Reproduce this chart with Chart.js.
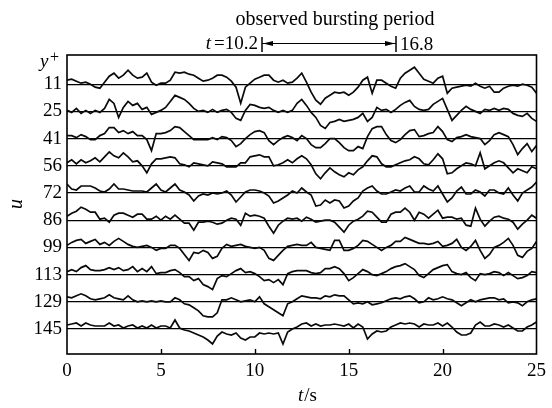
<!DOCTYPE html>
<html><head><meta charset="utf-8">
<script src="https://cdn.jsdelivr.net/npm/chart.js@4.4.1/dist/chart.umd.min.js"></script>
<style>html,body{margin:0;padding:0;background:#fff}#wrap{width:552px;height:408px;position:relative}</style>
</head><body><div id="wrap"><canvas id="c"></canvas></div>
<script>
// time axis (s), sampled every 0.25 s
const times = [0,0.25,0.5,0.75,1,1.25,1.5,1.75,2,2.25,2.5,2.75,3,3.25,3.5,3.75,4,4.25,4.5,4.75,5,5.25,5.5,5.75,6,6.25,6.5,6.75,7,7.25,7.5,7.75,8,8.25,8.5,8.75,9,9.25,9.5,9.75,10,10.25,10.5,10.75,11,11.25,11.5,11.75,12,12.25,12.5,12.75,13,13.25,13.5,13.75,14,14.25,14.5,14.75,15,15.25,15.5,15.75,16,16.25,16.5,16.75,17,17.25,17.5,17.75,18,18.25,18.5,18.75,19,19.25,19.5,19.75,20,20.25,20.5,20.75,21,21.25,21.5,21.75,22,22.25,22.5,22.75,23,23.25,23.5,23.75,24,24.25,24.5,24.75,25];
const xTicks = [0,5,10,15,20,25];
const yPlusLabels = ['11','25','41','56','72','86','99','113','129','145'];

// velocity fluctuation traces (arbitrary units) for each y+
const u11  = [4,5,3,1,2,0,-3,-4,2,8,11,6,9,14,9,6,7,11,2,-1,1,1,4,12,11,12,10,9,6,3,4,6,9, 9,7,3,-3,-19,-3,1,5,7,9,9,4,2,4,1,2,6,11,2,-8,-16,-20,-14,-11,-8,-9,-8,-11,-8,-3,4,7,-9,4, 4,1,-2,-4,6,11,14,17,11,5,3,1,6,8,-9,-4,-3,-2,-1,-2,1,-2,-4,-2,-8,-8,-4,-2,-1,-2,0,-1,-3,-9];
const u25  = [1,-1,3,-2,1,-2,1,-1,3,12,8,-6,4,10,6,8,2,4,-3,-1,1,4,10,16,14,12,8,3,0,1,-1,2,-1, 1,2,-1,-7,-9,1,7,6,4,3,4,1,-1,1,-1,1,8,12,6,-1,-6,-14,-17,-11,-10,-8,-10,-9,-8,-6,-2,-10,-6,4, 1,2,-1,2,6,9,11,5,2,1,2,7,10,13,2,-9,-4,1,5,2,0,-2,2,1,3,1,3,2,-2,-4,-5,-2,-7,-10];
const u41  = [3,3,1,4,2,-1,-1,3,5,11,11,6,8,5,7,3,3,-1,-12,5,5,6,8,12,11,7,3,-1,-1,-1,-1,1,-1, 2,1,-2,-8,-5,0,4,7,8,6,-2,-6,-2,1,3,1,-2,3,0,-6,-9,-9,-5,0,0,-4,-9,-12,-12,-8,-10,2,10,12, 12,4,-2,-4,-1,4,8,9,2,3,5,6,12,7,-1,-3,1,2,4,2,1,0,-6,-2,4,6,4,2,-6,-16,-10,-5,-13,-7];
const u56  = [3,6,2,6,3,5,8,4,9,14,10,8,13,9,4,5,0,-7,2,7,7,8,9,8,2,1,-1,3,2,1,0,4,3, 2,-1,-1,-1,3,3,9,10,11,9,9,0,1,3,6,3,7,10,7,1,-8,-13,-7,-2,-6,-9,-11,-7,-9,-4,-1,5,10,9, 2,-1,-1,1,3,5,6,9,7,2,1,6,12,7,-8,-7,-3,0,3,2,0,13,-3,0,3,5,3,-2,-7,-3,-5,-7,-1,-3];
const u72  = [9,4,3,7,7,7,5,2,1,4,9,4,4,3,2,2,2,1,5,9,3,1,5,9,3,1,-2,-8,-3,-1,-2,0,-1, 0,2,-2,-9,-4,1,3,3,2,0,-3,-10,-8,-5,-2,2,0,5,1,-2,-13,-12,-7,-10,-7,-8,-15,-13,-8,-5,2,5,7,2, -1,-1,1,3,2,5,7,1,1,7,4,2,7,-1,-9,-5,2,6,-1,-1,3,1,-3,3,3,0,-1,5,-2,-8,0,3,6,11];
const u86  = [4,7,9,13,11,8,8,1,2,-2,5,7,7,5,3,6,6,1,1,4,0,4,1,5,1,-3,-3,-10,-2,-2,-1,-2,-4, -3,0,2,1,-5,7,4,5,4,2,-6,-13,-5,-1,2,1,2,-1,3,1,-2,-1,0,0,-2,-7,-12,-5,-1,1,4,9,8,3, -2,-2,6,8,8,12,8,0,8,6,2,6,10,2,3,3,1,2,-5,-6,12,1,-6,-1,3,4,2,1,-2,-9,-4,0,5,2];
const u99  = [2,5,7,8,4,6,8,3,5,2,6,9,6,3,1,0,1,2,0,-3,-1,-1,2,2,-1,-7,-13,-5,-6,-3,-5,-11,-9, -1,3,1,2,3,1,0,-1,0,-3,-11,-13,-8,-3,1,2,3,2,2,5,0,-1,-2,-3,7,7,-3,-3,-1,2,7,6,3,0, -3,0,2,6,6,10,8,6,4,4,3,4,6,1,2,4,8,0,-3,1,7,-3,-11,-7,0,2,5,9,2,-8,-10,-4,-1,6];
const u113 = [3,5,3,7,9,5,4,4,5,7,5,7,4,5,8,3,6,3,8,1,2,2,4,5,2,-2,-2,-6,-4,-10,-12,-15,-4, -1,-2,1,4,6,2,3,1,-2,-6,-5,-8,-5,-10,1,3,4,4,4,2,1,2,6,6,8,6,1,-6,-3,1,5,3,0,-1, 1,3,6,8,9,11,8,5,-1,-3,1,5,7,9,10,3,1,0,2,-3,-6,1,0,1,3,2,-1,2,-1,-4,-3,-1,3,2];
const u129 = [5,4,6,8,6,3,2,3,4,7,4,3,2,6,2,0,1,0,1,0,1,0,0,4,2,-2,-3,-6,-9,-14,-15,-15,-11, 2,2,4,2,0,1,2,0,5,-2,-5,-8,-11,-14,-2,0,3,6,5,4,4,3,6,5,7,6,6,2,-2,-1,-2,0,-3,-2, -1,1,3,4,3,5,6,3,-1,0,4,2,3,5,3,2,-1,-4,-1,2,0,2,3,4,4,2,3,-1,0,-1,-4,0,2,3];
const u145 = [4,5,6,3,6,4,3,3,3,6,3,4,1,3,4,1,3,1,4,1,3,3,1,9,1,-1,-2,-4,-6,-8,-11,-15,-7, -3,-5,-6,-4,-9,-11,-8,-8,-4,-5,-4,-5,-4,-15,-3,0,2,5,6,3,5,3,4,4,5,4,3,5,1,5,2,-10,-5,-2, -3,-2,2,4,6,5,6,5,2,5,4,4,6,3,6,2,-3,-6,-6,-4,4,7,3,3,5,4,2,4,1,-2,-2,2,4,7];

const series = [u11,u25,u41,u56,u72,u86,u99,u113,u129,u145];
const SPACING = 27.2;               // vertical gap between stacked traces
const offsets = series.map((_, i) => (series.length - 1 - i) * SPACING);

const SERIF = '"Liberation Serif","Times New Roman",serif';

const datasets = series.map((vals, i) => ({
  label: 'y+ = ' + yPlusLabels[i],
  data: times.map((t, k) => ({x: t, y: offsets[i] + vals[k]})),
  borderColor: '#0a0a0a',
  borderWidth: 1.7,
  pointRadius: 0,
  tension: 0,
  fill: false
}));

const deco = {
  id: 'deco',
  afterDraw(chart) {
    const ctx = chart.ctx, a = chart.chartArea, xs = chart.scales.x;
    ctx.save();
    ctx.strokeStyle = '#000';
    ctx.lineWidth = 1.6;
    ctx.strokeRect(a.left, a.top, a.right - a.left, a.bottom - a.top);
    // inner tick marks on the bottom axis
    ctx.lineWidth = 1.4;
    xTicks.slice(1, -1).forEach(v => {
      const px = Math.round(xs.getPixelForValue(v)) + 0.5;
      ctx.beginPath(); ctx.moveTo(px, a.bottom); ctx.lineTo(px, a.bottom - 5); ctx.stroke();
    });
    ctx.fillStyle = '#000';
    ctx.textBaseline = 'alphabetic';
    // title
    ctx.font = '20px ' + SERIF;
    ctx.textAlign = 'center';
    ctx.fillText('observed bursting period', 335, 25);
    // bursting period annotation
    ctx.font = '19px ' + SERIF;
    ctx.textAlign = 'left';
    const eq = '=10.2';
    const wEq = ctx.measureText(eq).width;
    ctx.fillText(eq, 258 - wEq, 49);
    ctx.font = 'italic 19px ' + SERIF;
    const wT = ctx.measureText('t').width;
    ctx.fillText('t', 258 - wEq - wT - 3, 49);
    ctx.font = '19px ' + SERIF;
    ctx.fillText('16.8', 400, 50);
    const xl = 262, xr = 396, ya = 43.5;
    ctx.lineWidth = 1.5;
    ctx.beginPath(); ctx.moveTo(xl, 37); ctx.lineTo(xl, 52); ctx.stroke();
    ctx.beginPath(); ctx.moveTo(xr, 36); ctx.lineTo(xr, 52); ctx.stroke();
    ctx.lineWidth = 1;
    ctx.beginPath(); ctx.moveTo(xl, ya); ctx.lineTo(xr, ya); ctx.stroke();
    ctx.beginPath(); ctx.moveTo(xl + 1, ya); ctx.lineTo(xl + 11, ya - 2.5); ctx.lineTo(xl + 11, ya + 2.5); ctx.closePath(); ctx.fill();
    ctx.beginPath(); ctx.moveTo(xr - 1, ya); ctx.lineTo(xr - 11, ya - 2.5); ctx.lineTo(xr - 11, ya + 2.5); ctx.closePath(); ctx.fill();
    // y+ label
    ctx.font = 'italic 19px ' + SERIF;
    ctx.fillText('y', 40, 67);
    ctx.font = '16px ' + SERIF;
    ctx.fillText('+', 50, 62);
    // x axis title t/s
    ctx.font = 'italic 19px ' + SERIF;
    const wt2 = ctx.measureText('t').width;
    ctx.font = '19px ' + SERIF;
    const ws = ctx.measureText('/s').width;
    const x0 = 307 - (wt2 + ws) / 2;
    ctx.font = 'italic 19px ' + SERIF;
    ctx.fillText('t', x0, 401);
    ctx.font = '19px ' + SERIF;
    ctx.fillText('/s', x0 + wt2 + 1, 401);
    // y axis title u (rotated)
    ctx.translate(22, 204);
    ctx.rotate(-Math.PI / 2);
    ctx.font = 'italic 20px ' + SERIF;
    ctx.textAlign = 'center';
    ctx.fillText('u', 0, 0);
    ctx.restore();
  }
};

new Chart(document.getElementById('c'), {
  type: 'line',
  data: {datasets},
  plugins: [deco],
  options: {
    responsive: true,
    maintainAspectRatio: false,
    animation: false,
    devicePixelRatio: 1,
    layout: {padding: {top: 55, right: 12, left: 0, bottom: 0}},
    plugins: {legend: {display: false}, tooltip: {enabled: false}},
    scales: {
      x: {
        type: 'linear', min: 0, max: 25,
        afterFit: s => { s.height = 54; },
        afterBuildTicks: s => { s.ticks = xTicks.map(v => ({value: v})); },
        ticks: {font: {family: SERIF, size: 19}, color: '#000', padding: 6, maxRotation: 0, autoSkip: false},
        grid: {display: false, drawTicks: false},
        border: {display: false}
      },
      y: {
        type: 'linear', min: -25, max: 274,
        afterFit: s => { s.width = 67; },
        afterBuildTicks: s => { s.ticks = offsets.slice().reverse().map(v => ({value: v})); },
        ticks: {
          font: {family: SERIF, size: 19}, color: '#000', padding: 5, autoSkip: false,
          callback: (v, i) => yPlusLabels[yPlusLabels.length - 1 - i]
        },
        grid: {color: '#000', lineWidth: 1.3, drawTicks: false},
        border: {display: false}
      }
    }
  }
});
</script>
</body></html>
